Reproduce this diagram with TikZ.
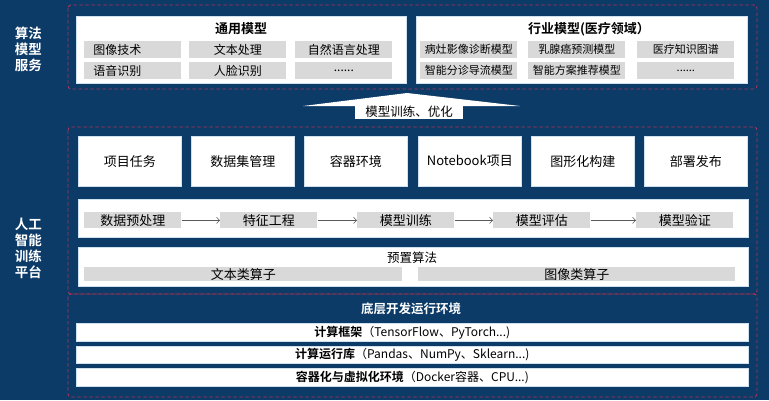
\documentclass[tikz,border=0pt]{standalone}
\usepackage{fontspec}
\setmainfont{Noto Sans CJK SC}[BoldFont={Noto Sans CJK SC Bold}]
\usetikzlibrary{arrows.meta}

\definecolor{bgnavy}{RGB}{13,59,103}
\definecolor{dashred}{RGB}{168,52,86}
\definecolor{cellgray}{RGB}{217,217,217}
\definecolor{edgeblue}{RGB}{205,225,240}

\def\moredots{......}

\tikzset{
dashbox/.style={draw=dashred, line width=0.9pt, dash pattern=on 3.5pt off 2.5pt, rounded corners=3pt},
panel/.style={draw=edgeblue, fill=white, line width=0.6pt, inner sep=0pt, anchor=north west},
cell/.style={fill=cellgray, inner sep=0pt, anchor=north west, minimum width=97, minimum height=16.5},
cellleft/.style={cell, text width=79, inner xsep=9, align=left},
indcell/.style={cell, font=\fontsize{11}{13}\selectfont},
sidelabel/.style={text=white, align=center, font=\bfseries\fontsize{13.5}{16}\selectfont},
heading/.style={font=\bfseries\fontsize{13}{15}\selectfont},
flow/.style={draw=black!65, line width=0.6pt, -{Straight Barb[length=3pt,width=6pt]}}
}
\tikzset{every picture/.style={line width=0.75pt}}

\begin{document}
\begin{tikzpicture}[x=1pt,y=1pt,yscale=-1,xscale=1,font=\fontsize{12}{14}\selectfont]

    \fill[bgnavy] (0,0) rectangle (769,400);
    \useasboundingbox (0,0) rectangle (769,400);

    \node[sidelabel] (serve) at (28.5,49) {算法\\模型\\服务};
    \node[sidelabel] (train) at (28.5,248) {人工\\智能\\训练\\平台};

    \draw[dashbox] (68,5) rectangle (757,89);
    \draw[dashbox] (68,127) rectangle (757,294);
    \draw[dashbox] (68,294) rectangle (757,397);

    % model service
    \node[panel, minimum width=330, minimum height=67] (general) at (76,16) {};
    \node[panel, minimum width=331, minimum height=67] (industry) at (416,16) {};
    \node[heading] (gentitle) at (241,29) {通用模型};
    \node[heading] (indtitle) at (589,29) {行业模型(医疗领域）};

    \foreach \x/\s/\t [count=\i] in {84/cellleft/图像技术, 189/cell/文本处理, 295/cell/自然语言处理}
        \node[\s] (genA\i) at (\x,41) {\t};
    \foreach \x/\s/\t [count=\i] in {84/cellleft/语音识别, 189/cell/人脸识别, 295/cell/\moredots}
        \node[\s] (genB\i) at (\x,62) {\t};

    \foreach \x/\t [count=\i] in {420/病灶影像诊断模型, 528/乳腺癌预测模型, 637/医疗知识图谱}
        \node[indcell] (indA\i) at (\x,41) {\t};
    \foreach \x/\t [count=\i] in {420/智能分诊导流模型, 528/智能方案推荐模型, 637/\moredots}
        \node[indcell] (indB\i) at (\x,62) {\t};

    \fill[white] (303,106) -- (407,93) -- (520,106) -- cycle;
    \node[fill=white, inner sep=0pt, minimum width=108, minimum height=15,
        font=\fontsize{12.5}{14}\selectfont] (tune) at (409,111.5) {模型训练、优化};

    % training platform
    \foreach \x/\t/\n in {78/项目任务/task, 191/数据集管理/dataset, 304/容器环境/env,
                          418/Notebook项目/notebook, 531/图形化构建/graph, 644/部署发布/deploy}
        \node[panel, minimum width=103, minimum height=50, font=\fontsize{13}{15}\selectfont] (\n) at (\x,136) {\t};

    \node[panel, minimum width=670, minimum height=38] (pipe) at (78,199) {};
    \foreach \x/\t [count=\i] in {84/数据预处理, 220/特征工程, 357/模型训练, 493/模型评估, 636/模型验证}
        \node[cell, minimum height=16, font=\fontsize{13}{15}\selectfont] (stage\i) at (\x,212) {\t};
    \foreach \i [evaluate=\i as \j using int(\i+1)] in {1,...,4}
        \draw[flow] (stage\i) -- (stage\j);

    \node[panel, minimum width=670, minimum height=39] (preset) at (78,247) {};
    \node[font=\fontsize{12.5}{14}\selectfont] (presettitle) at (412,258) {预置算法};
    \node[cell, minimum width=318, minimum height=14, font=\fontsize{13}{15}\selectfont] (textop) at (84,267) {文本类算子};
    \node[cell, minimum width=317, minimum height=14, font=\fontsize{13}{15}\selectfont] (imageop) at (418,267) {图像类算子};

    % runtime
    \node[heading, text=white, font=\bfseries\fontsize{12.5}{14}\selectfont] (runtime) at (411,309) {底层开发运行环境};
    \node[panel, minimum width=672, minimum height=18] (framework) at (76,323) {\textbf{计算框架}（TensorFlow、PyTorch...)};
    \node[panel, minimum width=672, minimum height=17] (library) at (76,346) {\textbf{计算运行库}（Pandas、NumPy、Sklearn...)};
    \node[panel, minimum width=672, minimum height=18] (virtual) at (76,368) {\textbf{容器化与虚拟化环境}（Docker容器、CPU...)};

\end{tikzpicture}
\end{document}
